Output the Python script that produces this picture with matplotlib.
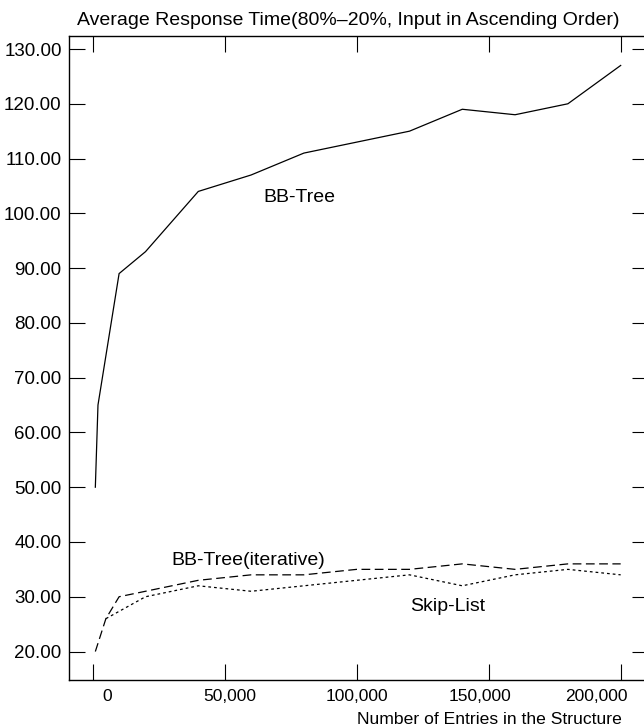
import matplotlib
matplotlib.use("Agg")
import matplotlib.pyplot as plt
from matplotlib.transforms import ScaledTranslation

plt.rcParams['font.family'] = ['Liberation Sans', 'DejaVu Sans']

# ---- data ----
bb_x = [1000, 2000, 10000, 20000, 40000, 60000, 80000, 100000, 120000, 140000, 160000, 180000, 200000]
bb_y = [50, 65, 89, 93, 104, 107, 111, 113, 115, 119, 118, 120, 127]

it_x = [1000, 5000, 10000, 20000, 40000, 60000, 80000, 100000, 120000, 140000, 160000, 180000, 200000]
it_y = [20, 26, 30, 31, 33, 34, 34, 35, 35, 36, 35, 36, 36]

sl_x = [5000, 20000, 40000, 60000, 80000, 100000, 120000, 140000, 160000, 180000, 200000]
sl_y = [26, 30, 32, 31, 32, 33, 34, 32, 34, 35, 34]

x_ticks = [0, 50000, 100000, 150000, 200000]
x_tick_labels = ["0", "50,000", "100,000", "150,000", "200,000"]
y_ticks = [20, 30, 40, 50, 60, 70, 80, 90, 100, 110, 120, 130]

title = "Average Response Time(80%\u201320%, Input in Ascending Order)"
xlabel = "Number of Entries in the Structure"

W, H = 644, 728
fig = plt.figure(figsize=(W / 100, H / 100), dpi=100)
left, right, top, bottom = 69, 648, 35.7, 680
ax = fig.add_axes([left / W, 1 - bottom / H, (right - left) / W, (bottom - top) / H])

lw = 0.9
ax.plot(bb_x, bb_y, color='black', lw=lw, solid_joinstyle='miter')
ax.plot(it_x, it_y, color='black', lw=lw, linestyle=(0, (7.0, 3.6)))
ax.plot(sl_x, sl_y, color='black', lw=lw, linestyle=(0, (2.2, 2.4)))

ax.set_xlim(-8977, 210350)
ax.set_ylim(14.80, 132.43)

ax.set_xticks(x_ticks)
ax.set_xticklabels(x_tick_labels)
ax.set_yticks(y_ticks)
ax.set_yticklabels([f"{v:.2f}" for v in y_ticks])

ax.tick_params(axis='both', direction='in', length=11.8, width=0.8,
               top=True, right=True, colors='black')
ax.tick_params(axis='y', pad=5.3, labelsize=13.5)
ax.tick_params(axis='x', pad=6.8, labelsize=12.5)

# per-label horizontal shifts (px) as in reference
shifts = [14, 5, 0, -8.5, -24]
for lab, s in zip(ax.get_xticklabels(), shifts):
    lab.set_transform(lab.get_transform() + ScaledTranslation(s / 100, 0, fig.dpi_scale_trans))

for sp in ax.spines.values():
    sp.set_linewidth(1.0)
    sp.set_color('black')

ax.set_xlabel(xlabel, fontsize=12.6, ha='right')
ax.xaxis.set_label_coords((621.7 - left) / (right - left), -(719 - bottom) / (bottom - top), transform=ax.transAxes)
ax.xaxis.label.set_va('center')

fig.text(348 / W, 1 - 20.5 / H, title, ha='center', va='center', fontsize=14)

ax.text(64620, 102.1, "BB-Tree", fontsize=14, ha='left', va='baseline')
ax.text(29925, 35.8, "BB-Tree(iterative)", fontsize=14, ha='left', va='baseline')
ax.text(120190, 27.4, "Skip-List", fontsize=14, ha='left', va='baseline')

fig.savefig("out.png", dpi=100)
